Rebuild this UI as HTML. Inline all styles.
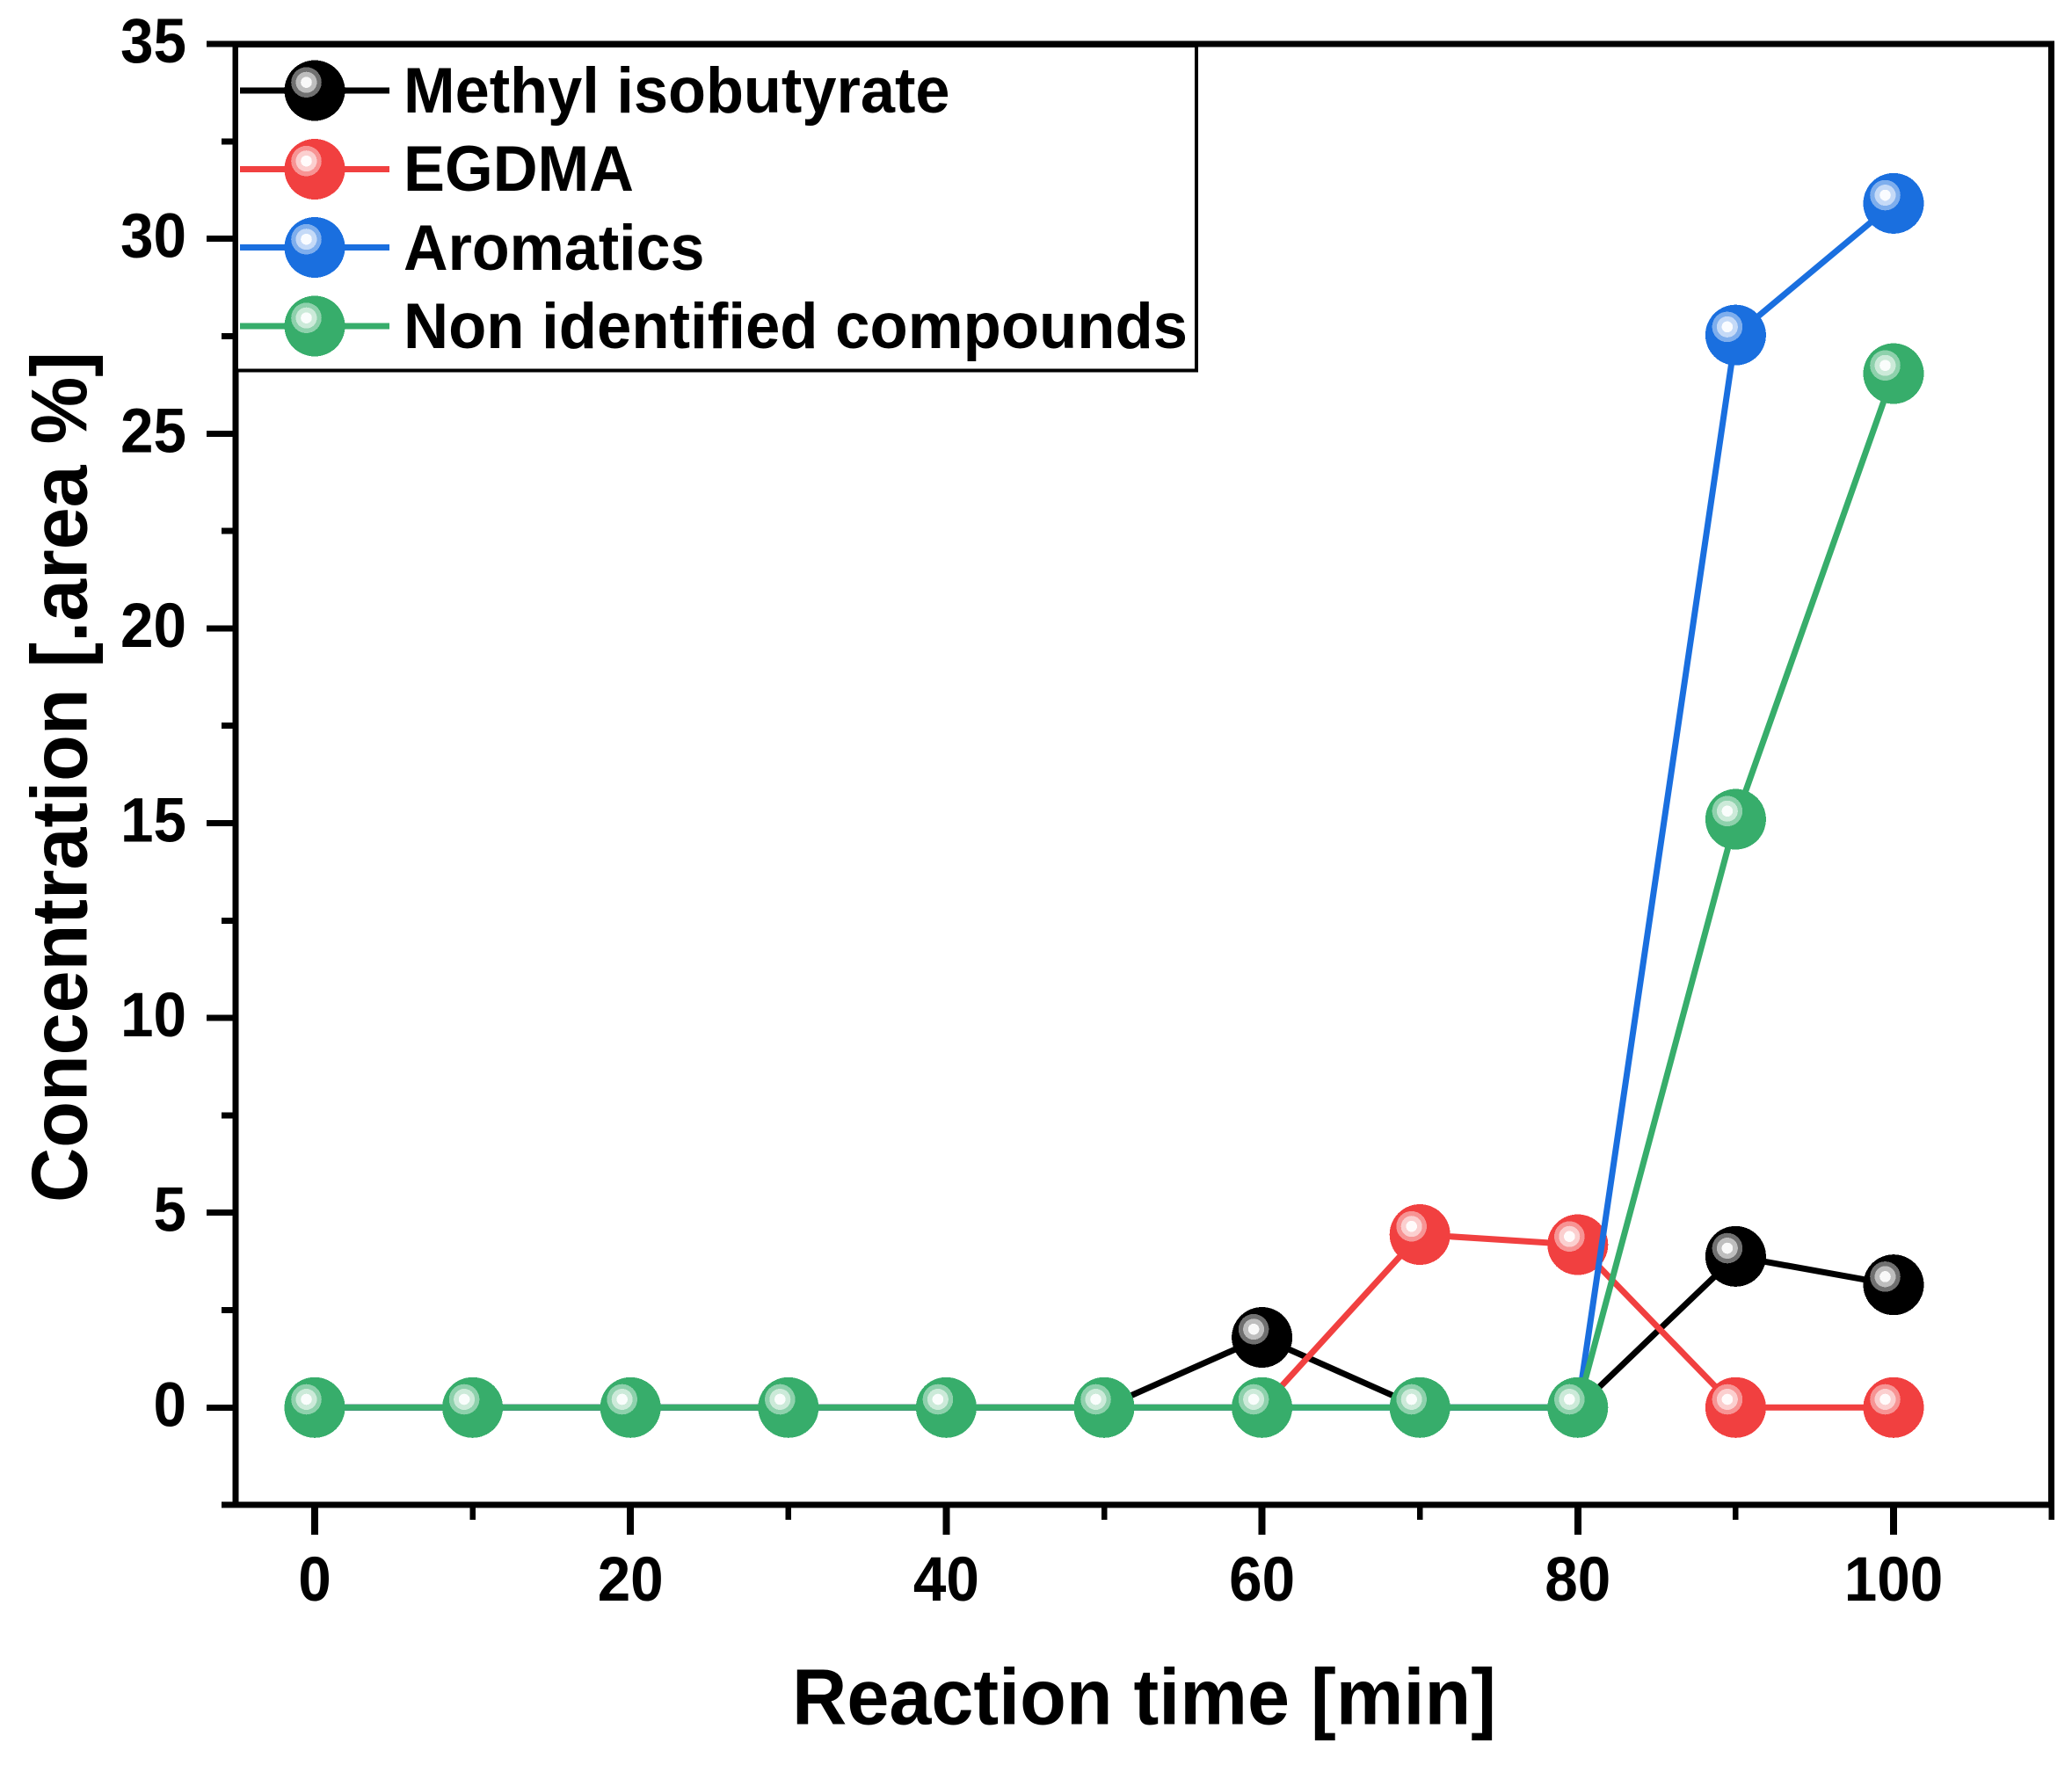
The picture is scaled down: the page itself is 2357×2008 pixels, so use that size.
<!DOCTYPE html>
<html lang="en">
<head>
<meta charset="utf-8">
<title>Concentration vs reaction time</title>
<style>
html,body{margin:0;padding:0;background:#fff;}
svg{display:block;}
text{font-family:"Liberation Sans",Arial,sans-serif;font-weight:bold;fill:#000;}
#axes line{shape-rendering:crispEdges;}
circle{shape-rendering:crispEdges;}
</style>
</head>
<body>
<svg id="chart" xmlns="http://www.w3.org/2000/svg" width="2357" height="2008" viewBox="0 0 2357 2008">
  <rect x="0" y="0" width="2357" height="2008" fill="#ffffff"/>
  <g id="axes"></g>
  <g id="series"></g>
  <g id="legend">
    <rect x="269" y="52" width="1092" height="369.5" fill="#ffffff" stroke="#000" stroke-width="4" shape-rendering="crispEdges"/>
    <g id="legend-keys"></g>
    <text x="459" y="128" font-size="73.5" textLength="621.5" lengthAdjust="spacingAndGlyphs">Methyl isobutyrate</text>
    <text x="459" y="217" font-size="73.5" textLength="262" lengthAdjust="spacingAndGlyphs">EGDMA</text>
    <text x="459" y="307" font-size="73.5" textLength="342.5" lengthAdjust="spacingAndGlyphs">Aromatics</text>
    <text x="459" y="396" font-size="73.5" textLength="892" lengthAdjust="spacingAndGlyphs">Non identified compounds</text>
  </g>
  <text x="1301.5" y="1961.5" font-size="90" text-anchor="middle" textLength="801" lengthAdjust="spacingAndGlyphs">Reaction time [min]</text>
  <text transform="translate(98.5 884) rotate(-90)" font-size="90" text-anchor="middle" textLength="968" lengthAdjust="spacingAndGlyphs">Concentration [.area %]</text>
</svg>
<script>
const times = [0, 10, 20, 30, 40, 50, 60, 70, 80, 90, 100];
const methylIsobutyrate = [0, 0, 0, 0, 0, 0, 1.8, 0, 0, 3.88, 3.15];
const egdma = [0, 0, 0, 0, 0, 0, 0, 4.44, 4.18, 0, 0];
const aromatics = [0, 0, 0, 0, 0, 0, 0, 0, 0, 27.53, 30.91];
const nonIdentified = [0, 0, 0, 0, 0, 0, 0, 0, 0, 15.1, 26.54];
const xMajorTicks = [0, 20, 40, 60, 80, 100];
const xMinorTicks = [10, 30, 50, 70, 90, 110];
const yMajorTicks = [0, 5, 10, 15, 20, 25, 30, 35];
const yMinorTicks = [-2.5, 2.5, 7.5, 12.5, 17.5, 22.5, 27.5, 32.5];

const xDomain = [-5, 110];
const yDomain = [-2.5, 35];

const NS = 'http://www.w3.org/2000/svg';
const axesGroup = document.getElementById('axes');
const seriesGroup = document.getElementById('series');
const legendKeys = document.getElementById('legend-keys');

function xScale(v) { return 358 + 17.96 * v; }
function yScale(v) { return 1601.3 - 44.32 * v; }

function make(tag, attrs, parent) {
  const el = document.createElementNS(NS, tag);
  for (const k in attrs) el.setAttribute(k, attrs[k]);
  parent.appendChild(el);
  return el;
}

function drawLine(x1, y1, x2, y2, width, color, parent) {
  return make('line', { x1: x1, y1: y1, x2: x2, y2: y2, stroke: color, 'stroke-width': width }, parent);
}

function tickLabelLength(v) { return String(v).length * 37.5; }

/* plot frame */
const frameTop = drawLine(xScale(xDomain[0]) - 3.5, yScale(yDomain[1]), xScale(xDomain[1]) + 3.5, yScale(yDomain[1]), 7, '#000', axesGroup);


const frameBottom = drawLine(xScale(xDomain[0]) - 3.5, yScale(yDomain[0]), xScale(xDomain[1]) + 3.5, yScale(yDomain[0]), 7, '#000', axesGroup);


const frameLeft = drawLine(xScale(xDomain[0]), yScale(yDomain[1]), xScale(xDomain[0]), yScale(yDomain[0]), 7, '#000', axesGroup);


const frameRight = drawLine(xScale(xDomain[1]), yScale(yDomain[1]), xScale(xDomain[1]), yScale(yDomain[0]), 7, '#000', axesGroup);



/* x ticks */
xMajorTicks.forEach(function (v) {
  const tick = drawLine(xScale(v), yScale(yDomain[0]), xScale(v), 1746, 8, '#000', axesGroup);
  
  
  const label = make('text', { x: xScale(v), y: 1821, 'font-size': 71, 'text-anchor': 'middle', textLength: tickLabelLength(v), lengthAdjust: 'spacingAndGlyphs' }, axesGroup);
  
  
  label.textContent = String(v);
});
xMinorTicks.forEach(function (v) {
  const tick = drawLine(xScale(v), yScale(yDomain[0]), xScale(v), 1729, 6.5, '#000', axesGroup);
  
  
});

/* y ticks */
yMajorTicks.forEach(function (v) {
  const tick = drawLine(235, yScale(v), xScale(xDomain[0]), yScale(v), 7, '#000', axesGroup);
  
  
  const label = make('text', { x: 212, y: yScale(v) + 21, 'font-size': 71, 'text-anchor': 'end', textLength: tickLabelLength(v), lengthAdjust: 'spacingAndGlyphs' }, axesGroup);
  
  
  label.textContent = String(v);
});
yMinorTicks.forEach(function (v) {
  const tick = drawLine(252, yScale(v), xScale(xDomain[0]), yScale(v), 7, '#000', axesGroup);
  
  
});

function drawMarker(cx, cy, color, parent) {
  const g = make('g', {}, parent);
  const body = make('circle', { cx: cx, cy: cy, r: 34.5, fill: color }, g);
  
  
  const hx = cx - 9.5;
  const hy = cy - 9.3;
  const glowOuter = make('circle', { cx: hx, cy: hy, r: 17.3, fill: '#fff', 'fill-opacity': 0.44 }, g);
  
  
  const glowMid = make('circle', { cx: hx, cy: hy, r: 12, fill: '#fff', 'fill-opacity': 0.55 }, g);
  
  
  const glowInner = make('circle', { cx: hx, cy: hy, r: 6.3, fill: '#fff', 'fill-opacity': 0.9 }, g);
  
  
  return g;
}

function drawSeries(values, color, name) {
  const g = make('g', {}, seriesGroup);
  
  
  const points = times.map(function (t, i) { return xScale(t) + ',' + yScale(values[i]); }).join(' ');
  const line = make('polyline', { points: points, fill: 'none', stroke: color, 'stroke-width': 7 }, g);
  
  
  times.forEach(function (t, i) {
    const point = drawMarker(xScale(t), yScale(values[i]), color, g);
    
    
  });
}

drawSeries(methylIsobutyrate, '#000000', 'series-methyl-isobutyrate');
drawSeries(egdma, '#F14040', 'series-egdma');
drawSeries(aromatics, '#1A6FDF', 'series-aromatics');
drawSeries(nonIdentified, '#37AD6B', 'series-non-identified');

function drawLegendKey(cy, color, name) {
  const g = make('g', {}, legendKeys);
  
  
  const keyLine = drawLine(273, cy, 443, cy, 7, color, g);
  
  
  const keyMarker = drawMarker(358, cy, color, g);
  
  
}

drawLegendKey(103, '#000000', 'legend-key-methyl-isobutyrate');
drawLegendKey(192.5, '#F14040', 'legend-key-egdma');
drawLegendKey(281.5, '#1A6FDF', 'legend-key-aromatics');
drawLegendKey(371, '#37AD6B', 'legend-key-non-identified');
</script>
</body>
</html>
